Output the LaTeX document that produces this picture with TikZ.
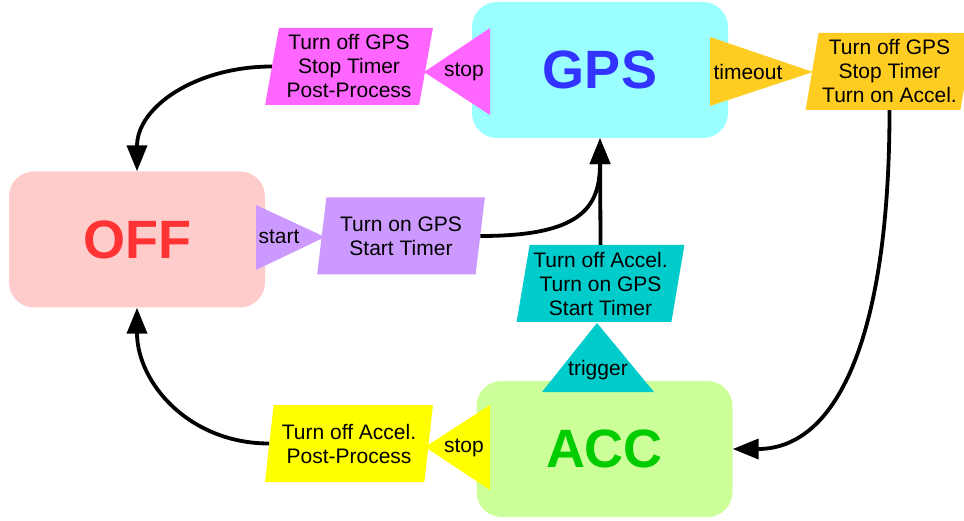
\documentclass[tikz,border=0pt]{standalone}
\usepackage{fontspec}
\setmainfont{Liberation Sans}
\usetikzlibrary{shapes.geometric,arrows.meta}
\definecolor{gpsfill}{HTML}{99FFFF}
\definecolor{gpstext}{HTML}{3333FF}
\definecolor{offfill}{HTML}{FFCCCC}
\definecolor{offtext}{HTML}{FF3333}
\definecolor{accfill}{HTML}{CCFF99}
\definecolor{acctext}{HTML}{00CC00}
\definecolor{magentaC}{HTML}{FF66FF}
\definecolor{goldC}{HTML}{FFCC22}
\definecolor{purpleC}{HTML}{CC99FF}
\definecolor{tealC}{HTML}{00CCCC}
\definecolor{yellowC}{HTML}{FFFF00}
\begin{document}
\begin{tikzpicture}[x=1pt,y=-1pt,
  statebox/.style={rectangle, rounded corners=25pt, minimum width=256pt, minimum height=136pt, inner sep=0pt, font=\fontsize{54}{60}\selectfont\bfseries},
  actbox/.style={trapezium, trapezium left angle=79, trapezium right angle=101, trapezium stretches=true, minimum width=168pt, minimum height=77pt, inner sep=0pt, align=center, font=\fontsize{21}{24}\selectfont},
  trilabel/.style={inner sep=0pt, font=\fontsize{21}{24}\selectfont},
  conn/.style={line width=3.8pt, -{Triangle[length=26pt,width=20pt]}}
]
\clip (0,0) rectangle (964,521);

% state boxes
\node[statebox, fill=gpsfill, text=gpstext] (gps) at (600,70) {GPS};
\node[statebox, fill=offfill, text=offtext] (off) at (137,239.5) {OFF};
\node[statebox, fill=accfill, text=acctext] (acc) at (604.5,449) {ACC};

% event triangles
\fill[magentaC] (490,28) -- (490,115) -- (424,72) -- cycle;
\node[trilabel] (stopgps) at (464,72) {stop};
\fill[goldC] (710,37) -- (710,106) -- (813,72) -- cycle;
\node[trilabel] (timeout) at (748,72) {timeout};
\fill[purpleC] (256,205) -- (256,270) -- (325,237) -- cycle;
\node[trilabel] (start) at (279,237) {start};
\fill[tealC] (597,323) -- (654,392) -- (542,392) -- cycle;
\node[trilabel, anchor=base] (trigger) at (598,375) {trigger};
\fill[yellowC] (490,405) -- (490,490) -- (425,447) -- cycle;
\node[trilabel] (stopacc) at (464,448) {stop};

% action parallelograms
\node[actbox, fill=magentaC] (offgps) at (349,66.5) {Turn off GPS\\Stop Timer\\Post-Process};
\node[actbox, fill=goldC] (toacc) at (889.5,71.5) {Turn off GPS\\Stop Timer\\Turn on Accel.};
\node[actbox, fill=purpleC] (ongps) at (401,236) {Turn on GPS\\Start Timer};
\node[actbox, fill=tealC] (trig) at (600.5,283.5) {Turn off Accel.\\Turn on GPS\\Start Timer};
\node[actbox, fill=yellowC] (offacc) at (349,443.5) {Turn off Accel.\\Post-Process};

% connectors
\draw[conn] (offgps.west) .. controls +(-75,0) and +(0,-65) .. (off.north);
\draw[conn] (offacc.west) .. controls +(-80,0) and +(0,75) .. (off.south);
\draw[conn] (ongps.east) .. controls +(100,0) and +(0,70) .. (gps.south);
\draw[conn] (trig.north) -- (gps.south);
\draw[conn] (toacc.south) .. controls +(0,220) and +(107,0) .. (acc.east);
\end{tikzpicture}
\end{document}
